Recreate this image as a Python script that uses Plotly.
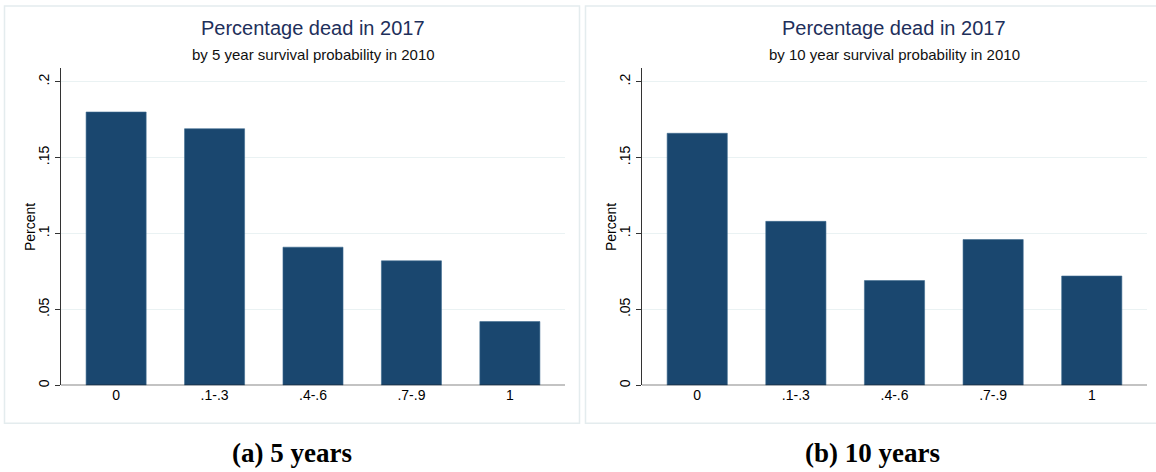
import plotly.graph_objects as go

categories = ["0", ".1-.3", ".4-.6", ".7-.9", "1"]
dead_5yr = [0.180, 0.169, 0.091, 0.082, 0.042]
dead_10yr = [0.166, 0.108, 0.069, 0.096, 0.072]
ytick_vals = [0, 0.05, 0.1, 0.15, 0.2]
ytick_text = ["0", ".05", ".1", ".15", ".2"]
titles = ["Percentage dead in 2017", "Percentage dead in 2017"]
subtitles = ["by 5 year survival probability in 2010", "by 10 year survival probability in 2010"]
captions = ["(a) 5 years", "(b) 10 years"]

W, H = 1156, 472
BAR = "#1a476f"
GRID = "#eaf2f3"
FRAME = "#e4ecee"
SANS = "Liberation Sans, Arial, sans-serif"

fig = go.Figure()
idx = list(range(len(categories)))
fig.add_trace(go.Bar(x=idx, y=dead_5yr, marker=dict(color=BAR, line=dict(color="#3d6a8f", width=0.6)),
                     width=0.61, xaxis="x", yaxis="y", showlegend=False))
fig.add_trace(go.Bar(x=idx, y=dead_10yr, marker=dict(color=BAR, line=dict(color="#3d6a8f", width=0.6)),
                     width=0.61, xaxis="x2", yaxis="y2", showlegend=False))

def px_x(v):
    return v / W

def px_y(v):
    return 1 - v / H

ydom = [px_y(387), px_y(68)]
yr = [0, (387 - 68) / 1525.0]
xdoms = [[px_x(61), px_x(565)], [px_x(642), px_x(1147)]]

common_x = dict(range=[-0.56, 4.56], tickvals=idx, ticktext=categories, showgrid=False,
                zeroline=False, showline=False, ticks="", tickfont=dict(family=SANS, size=14, color="#000"),
                fixedrange=True)
common_y = dict(range=yr, domain=ydom, tickvals=ytick_vals, ticktext=ytick_text, tickangle=-90,
                showgrid=True, gridcolor=GRID, gridwidth=1, zeroline=False, showline=True,
                linecolor="#333", linewidth=1.2, ticks="outside", ticklen=5, tickcolor="#333",
                tickfont=dict(family=SANS, size=14, color="#000"), fixedrange=True)

layout = dict(
    width=W, height=H, margin=dict(l=0, r=0, t=0, b=0),
    paper_bgcolor="white", plot_bgcolor="white", bargap=0.39,
    xaxis=dict(domain=xdoms[0], anchor="y", **common_x),
    xaxis2=dict(domain=xdoms[1], anchor="y2", **common_x),
    yaxis=dict(anchor="x", **common_y),
    yaxis2=dict(anchor="x2", **common_y),
)
fig.update_layout(**layout)

shapes = []
# panel frames
shapes.append(dict(type="rect", xref="paper", yref="paper", x0=px_x(4.5), x1=px_x(579.5), y0=px_y(425), y1=px_y(6),
                   line=dict(color=FRAME, width=1.5), fillcolor="rgba(0,0,0,0)", layer="below"))
shapes.append(dict(type="rect", xref="paper", yref="paper", x0=px_x(585.5), x1=px_x(1160), y0=px_y(425), y1=px_y(6),
                   line=dict(color=FRAME, width=1.5), fillcolor="rgba(0,0,0,0)", layer="below"))
# x axis baselines
for xa, ya, d in (("x", "y", xdoms[0]), ("x2", "y2", xdoms[1])):
    shapes.append(dict(type="line", xref="paper", yref=ya, x0=d[0], x1=d[1], y0=0, y1=0,
                       line=dict(color="#111", width=1.4)))
fig.update_layout(shapes=shapes)

ann = []
centers = [(61 + 565) / 2, (642 + 1147) / 2]
for i in range(2):
    ann.append(dict(text=titles[i], xref="paper", yref="paper", x=px_x(centers[i]), y=px_y(28),
                    showarrow=False, font=dict(family=SANS, size=20, color="#1e2f5b"), xanchor="center", yanchor="middle"))
    ann.append(dict(text=subtitles[i], xref="paper", yref="paper", x=px_x(centers[i]), y=px_y(55),
                    showarrow=False, font=dict(family=SANS, size=15, color="#111"), xanchor="center", yanchor="middle"))
    yx = [30, 611][i]
    ann.append(dict(text="Percent", xref="paper", yref="paper", x=px_x(yx), y=px_y(228), textangle=-90,
                    showarrow=False, font=dict(family=SANS, size=14, color="#000"), xanchor="center", yanchor="middle"))
capx = [292, 872]
for i in range(2):
    ann.append(dict(text="<b>" + captions[i] + "</b>", xref="paper", yref="paper", x=px_x(capx[i]), y=px_y(455),
                    showarrow=False, font=dict(family="Liberation Serif, DejaVu Serif, serif", size=27, color="#000"),
                    xanchor="center", yanchor="middle"))
fig.update_layout(annotations=ann)

fig.write_html("out.html")
